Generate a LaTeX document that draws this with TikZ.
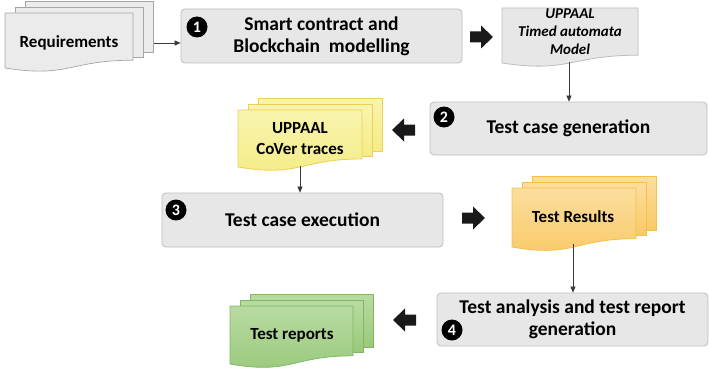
\documentclass[tikz,border=0pt]{standalone}
\usepackage{fontspec}
\setmainfont{Carlito}
\usetikzlibrary{arrows.meta}
\definecolor{boxfill}{HTML}{E7E7E7}
\definecolor{boxline}{HTML}{BDBDBD}
\definecolor{reqfill}{HTML}{EBEBEB}
\definecolor{reqline}{HTML}{A5A5A5}
\definecolor{ylwtop}{HTML}{F8F4AE}
\definecolor{ylwbot}{HTML}{F4EC86}
\definecolor{ylwline}{HTML}{EFCF55}
\definecolor{orgtop}{HTML}{FBDE9E}
\definecolor{orgbot}{HTML}{F9C966}
\definecolor{orgline}{HTML}{F4C04A}
\definecolor{grntop}{HTML}{B9DBA2}
\definecolor{grnbot}{HTML}{98C97A}
\definecolor{grnline}{HTML}{80B862}
\definecolor{conline}{HTML}{3A3A3A}
\newcommand{\mydocfront}[5]{%
  \pgfmathsetmacro{\dh}{(#4-#2)/0.934}%
  \pgfmathsetmacro{\dyr}{#2+0.802*\dh}%
  \pgfmathsetmacro{\dyc}{#2+1.1075*\dh}%
  \pgfmathsetmacro{\dxm}{(#1+#3)/2}%
  \path[#5] (#1,#2) -- (#3,#2) -- (#3,\dyr) .. controls (\dxm,\dyr) and (\dxm,\dyc) .. (#1,#4) -- cycle;
}
\newcommand{\mymultidoc}[5]{%
  \pgfmathsetmacro{\dh}{(#4-#2)/0.934}%
  \pgfmathsetmacro{\dyr}{#2+0.802*\dh}%
  \path[#5] (#1+20,#2-12) rectangle (#3+20,\dyr-8);
  \path[#5] (#1+10,#2-6) rectangle (#3+10,\dyr-3);
  \mydocfront{#1}{#2}{#3}{#4}{#5}%
}
\tikzset{
  stepbox/.style={draw=boxline, fill=boxfill, line width=0.8pt, rounded corners=4pt,
    inner sep=0pt, align=center, font=\bfseries\fontsize{19.5}{22}\selectfont},
  numcirc/.style={circle, fill=black, text=white, inner sep=0pt, minimum size=21pt,
    font=\bfseries\fontsize{16}{16}\selectfont},
  doctext/.style={align=center, inner sep=0pt, font=\bfseries\fontsize{17}{21}\selectfont},
  reqdoc/.style={draw=reqline, fill=reqfill, line width=0.7pt},
  modeldoc/.style={draw=boxline, fill=boxfill, line width=0.8pt},
  ylwdoc/.style={draw=ylwline, top color=ylwtop, bottom color=ylwbot, line width=0.8pt},
  orgdoc/.style={draw=orgline, top color=orgtop, bottom color=orgbot, line width=0.8pt},
  grndoc/.style={draw=grnline, top color=grntop, bottom color=grnbot, line width=0.8pt},
  conn/.style={draw=conline, line width=0.6pt, -{Triangle[length=6pt,width=5pt]}},
  blockarrow/.style={fill=black!90}
}
\newcommand{\rightblock}[2]{%
  \path[blockarrow] (#1,#2-5.5) -- (#1+11,#2-5.5) -- (#1+11,#2-11.5) -- (#1+23,#2) -- (#1+11,#2+11.5) -- (#1+11,#2+5.5) -- (#1,#2+5.5) -- cycle;
}
\newcommand{\leftblock}[2]{%
  \path[blockarrow] (#1+23,#2-5.5) -- (#1+12,#2-5.5) -- (#1+12,#2-11.5) -- (#1,#2) -- (#1+12,#2+11.5) -- (#1+12,#2+5.5) -- (#1+23,#2+5.5) -- cycle;
}
\begin{document}
\begin{tikzpicture}[x=1pt,y=-1pt]
\useasboundingbox (0,0) rectangle (709,369);
% documents
\mymultidoc{5}{13}{133}{68}{reqdoc}
\node[doctext] (req) at (69,43) {Requirements};
\mydocfront{502}{8}{638}{63}{modeldoc}
\node[align=center, inner sep=0pt, font=\bfseries\itshape\fontsize{15}{18}\selectfont] (model) at (570,32) {UPPAAL\\Timed automata\\Model};
\mymultidoc{238}{110}{362}{167}{ylwdoc}
\node[doctext] (cover) at (300,138.5) {UPPAAL\\CoVer traces};
\mymultidoc{512}{188}{636}{247}{orgdoc}
\node[doctext] (results) at (573,217) {Test Results};
\mymultidoc{230}{306}{353}{364}{grndoc}
\node[doctext] (reports) at (292,335) {Test reports};
% step boxes
\node[stepbox, minimum width=281pt, minimum height=54pt] (box1) at (321.5,36) {Smart contract and\\Blockchain\ \ modelling};
\node[stepbox, minimum width=277pt, minimum height=53pt] (box2) at (568.5,128.5) {Test case generation};
\node[stepbox, minimum width=281pt, minimum height=54pt] (box3) at (302.5,220) {Test case execution};
\node[stepbox, minimum width=271pt, minimum height=53pt] (box4) at (572.5,319.5) {Test analysis and test report\\generation};
% numbers
\node[numcirc] (n1) at (197,27) {1};
\node[numcirc] (n2) at (444,117) {2};
\node[numcirc] (n3) at (176,210) {3};
\node[numcirc] (n4) at (452,330) {4};
% connectors
\coordinate (reqR) at (154,43);
\coordinate (modelB) at (569,62);
\coordinate (coverB) at (300,166);
\coordinate (resultsB) at (573,244);
\draw[conn] (reqR) -- (reqR -| box1.west);
\draw[conn] (modelB) -- (modelB |- box2.north);
\draw[conn] (coverB) -- (coverB |- box3.north);
\draw[conn] (resultsB) -- (resultsB |- box4.north);
% block arrows
\rightblock{470}{37}
\leftblock{392}{130}
\rightblock{462}{218}
\leftblock{393}{320}
\end{tikzpicture}
\end{document}
